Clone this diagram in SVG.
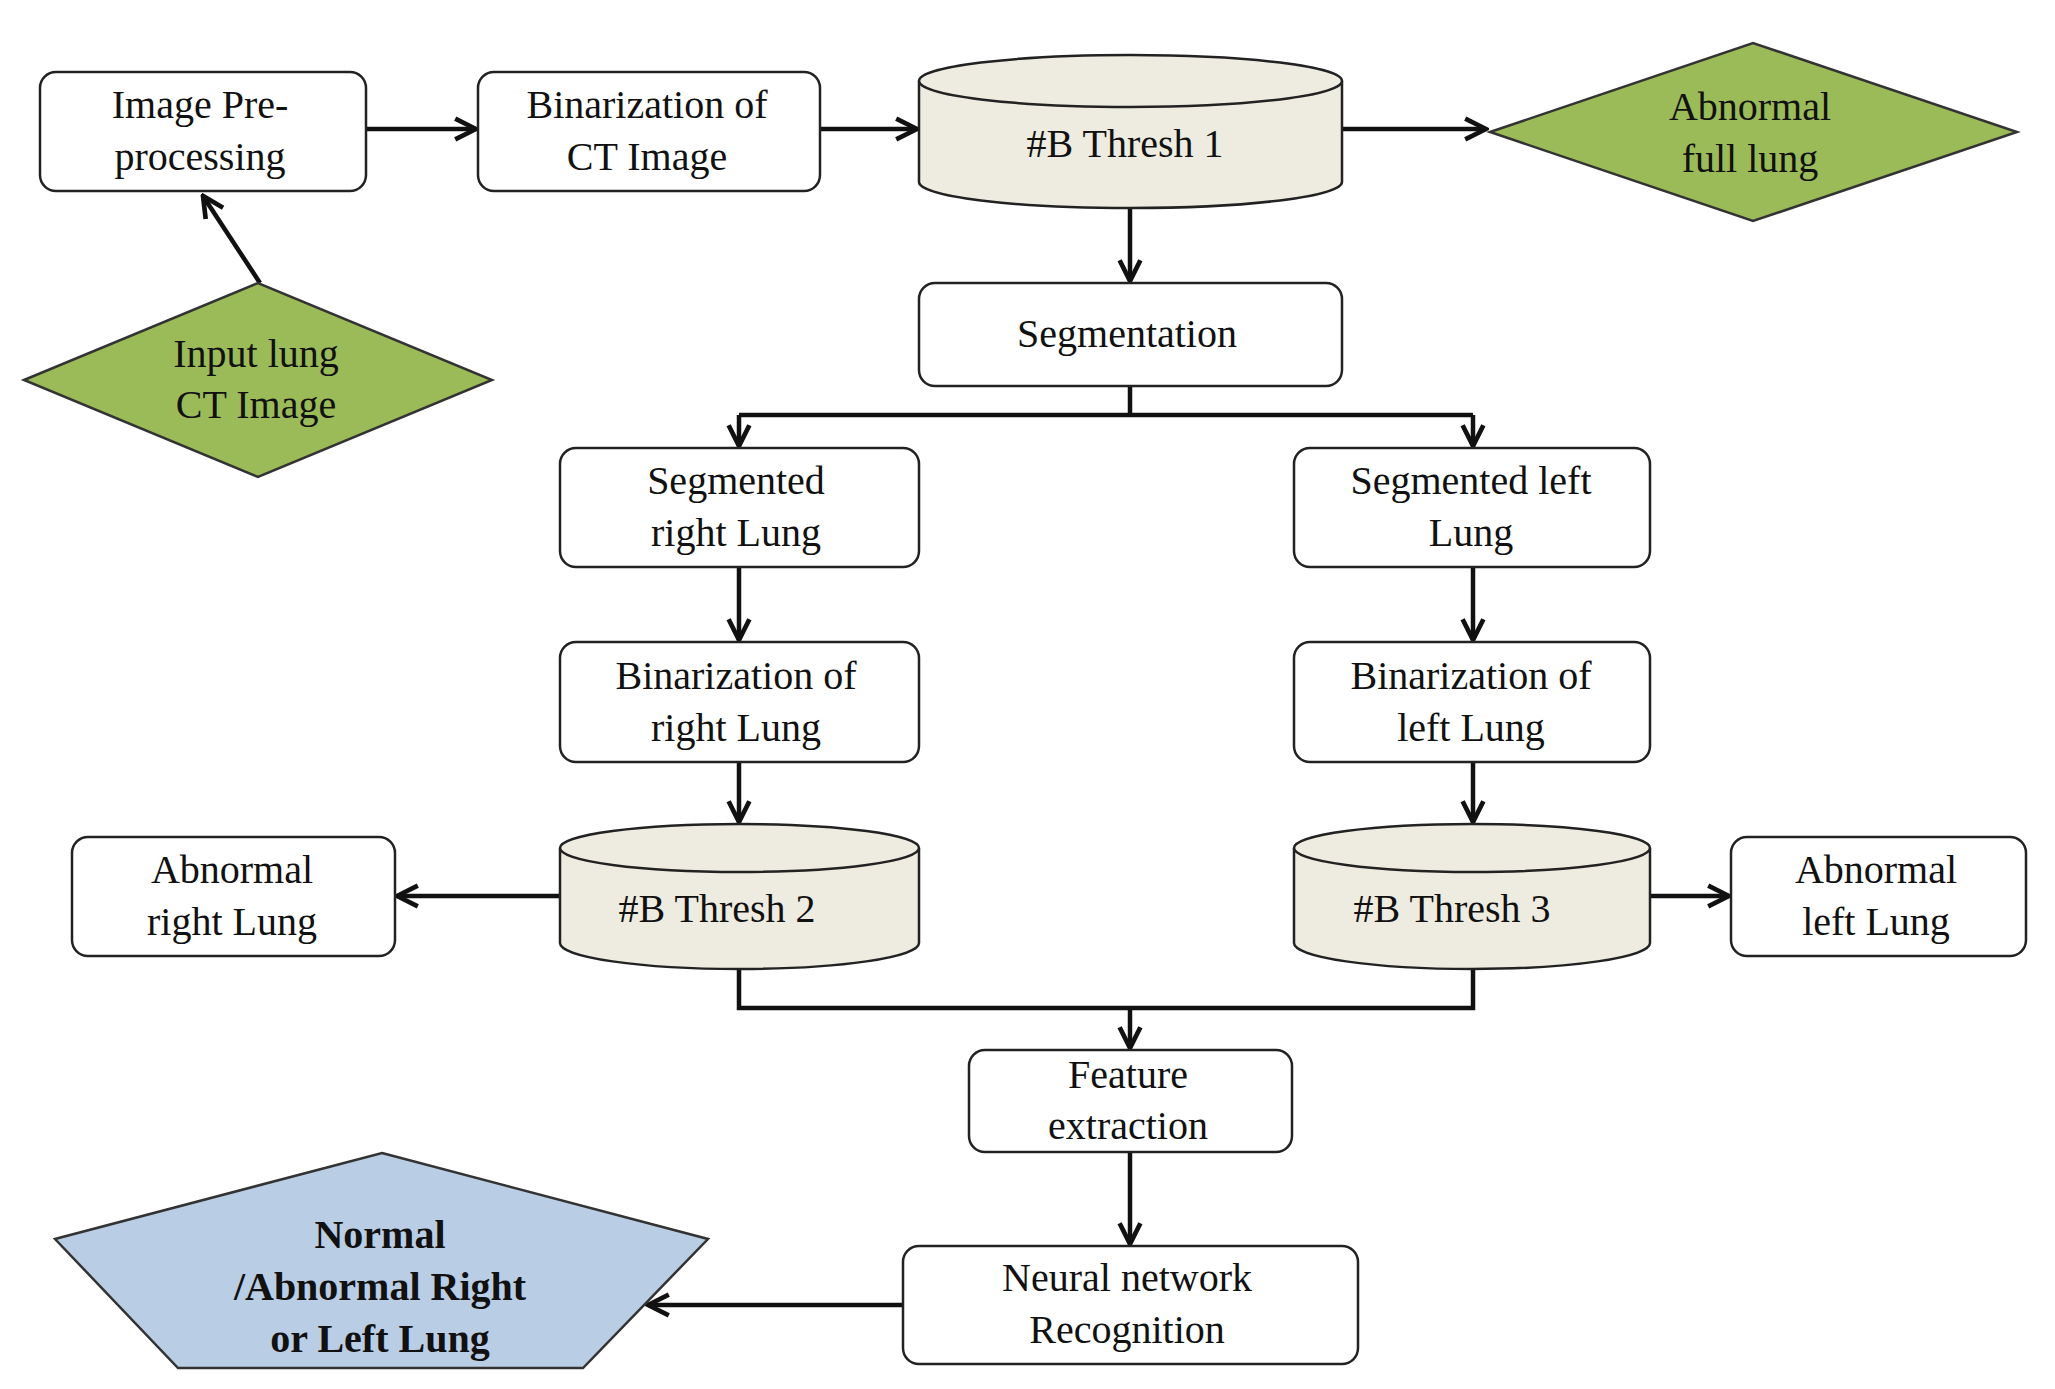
<svg xmlns="http://www.w3.org/2000/svg" width="2055" height="1389" viewBox="0 0 2055 1389">
<defs>
<style>
text{font-family:"Liberation Serif","Times New Roman",serif;font-size:40px;fill:#111;text-anchor:middle}
.b{fill:#fff;stroke:#222;stroke-width:2.5}
.d{fill:#9bbb59;stroke:#333;stroke-width:2.5}
.c{fill:#eeece1;stroke:#222;stroke-width:2.5}
.p{fill:#b9cde5;stroke:#333;stroke-width:2.5}
.l{fill:none;stroke:#111;stroke-width:4.5}
</style>
<marker id="a" viewBox="0 0 10 10" refX="9" refY="5" markerWidth="26" markerHeight="26" markerUnits="userSpaceOnUse" orient="auto"><path d="M1,1 L9,5 L1,9" fill="none" stroke="#111" stroke-width="1.8"/></marker>
</defs>
<rect width="2055" height="1389" fill="#fff"/>
<g id="connectors">
<path class="l" d="M366,129H476" marker-end="url(#a)"/>
<path class="l" d="M820,129H917" marker-end="url(#a)"/>
<path class="l" d="M1342,129H1486" marker-end="url(#a)"/>
<path class="l" d="M260,283L203,196" marker-end="url(#a)"/>
<path class="l" d="M1130,208V281" marker-end="url(#a)"/>
<path class="l" d="M1130,386V415"/>
<path class="l" d="M739,415H1473"/>
<path class="l" d="M739,415V446" marker-end="url(#a)"/>
<path class="l" d="M1473,415V446" marker-end="url(#a)"/>
<path class="l" d="M739,567V640" marker-end="url(#a)"/>
<path class="l" d="M1473,567V640" marker-end="url(#a)"/>
<path class="l" d="M739,762V822" marker-end="url(#a)"/>
<path class="l" d="M1473,762V822" marker-end="url(#a)"/>
<path class="l" d="M560,896H397" marker-end="url(#a)"/>
<path class="l" d="M1650,896H1729" marker-end="url(#a)"/>
<path class="l" d="M739,969V1008H1473V969"/>
<path class="l" d="M1130,1008V1048" marker-end="url(#a)"/>
<path class="l" d="M1130,1152V1244" marker-end="url(#a)"/>
<path class="l" d="M903,1305H648" marker-end="url(#a)"/>
</g>
<g id="preproc"><rect class="b" x="40" y="72" width="326" height="119" rx="16"/><text x="200" y="118">Image Pre-</text><text x="200" y="170">processing</text></g>
<g id="bin-ct"><rect class="b" x="478" y="72" width="342" height="119" rx="16"/><text x="647" y="118">Binarization of</text><text x="647" y="170">CT Image</text></g>
<g id="thresh1"><path class="c" d="M919,81V182A211,26 0 0 0 1342,182V81"/><ellipse class="c" cx="1130.5" cy="81" rx="211.5" ry="26"/><text x="1125" y="157">#B Thresh 1</text></g>
<g id="abn-full"><polygon class="d" points="1490,132 1753,43 2017,132 1753,221"/><text x="1750" y="120">Abnormal</text><text x="1750" y="172">full lung</text></g>
<g id="input"><polygon class="d" points="24,380 258,283 492,380 258,477"/><text x="256" y="367">Input lung</text><text x="256" y="418">CT Image</text></g>
<g id="seg"><rect class="b" x="919" y="283" width="423" height="103" rx="16"/><text x="1127" y="347">Segmentation</text></g>
<g id="seg-r"><rect class="b" x="560" y="448" width="359" height="119" rx="16"/><text x="736" y="494">Segmented</text><text x="736" y="546">right Lung</text></g>
<g id="seg-l"><rect class="b" x="1294" y="448" width="356" height="119" rx="16"/><text x="1471" y="494">Segmented left</text><text x="1471" y="546">Lung</text></g>
<g id="bin-r"><rect class="b" x="560" y="642" width="359" height="120" rx="16"/><text x="736" y="689">Binarization of</text><text x="736" y="741">right Lung</text></g>
<g id="bin-l"><rect class="b" x="1294" y="642" width="356" height="120" rx="16"/><text x="1471" y="689">Binarization of</text><text x="1471" y="741">left Lung</text></g>
<g id="thresh2"><path class="c" d="M560,848V943A179.5,26 0 0 0 919,943V848"/><ellipse class="c" cx="739.5" cy="848" rx="179.5" ry="24"/><text x="717" y="922">#B Thresh 2</text></g>
<g id="thresh3"><path class="c" d="M1294,848V943A178,26 0 0 0 1650,943V848"/><ellipse class="c" cx="1472" cy="848" rx="178" ry="24"/><text x="1452" y="922">#B Thresh 3</text></g>
<g id="abn-r"><rect class="b" x="72" y="837" width="323" height="119" rx="16"/><text x="232" y="883">Abnormal</text><text x="232" y="935">right Lung</text></g>
<g id="abn-l"><rect class="b" x="1731" y="837" width="295" height="119" rx="16"/><text x="1876" y="883">Abnormal</text><text x="1876" y="935">left Lung</text></g>
<g id="feat"><rect class="b" x="969" y="1050" width="323" height="102" rx="16"/><text x="1128" y="1088">Feature</text><text x="1128" y="1139">extraction</text></g>
<g id="nn"><rect class="b" x="903" y="1246" width="455" height="118" rx="16"/><text x="1127" y="1291">Neural network</text><text x="1127" y="1343">Recognition</text></g>
<g id="result"><polygon class="p" points="382,1153 708,1239 583,1368 178,1368 55,1239"/><text x="380" y="1248" font-weight="bold">Normal</text><text x="380" y="1300" font-weight="bold">/Abnormal Right</text><text x="380" y="1352" font-weight="bold">or Left Lung</text></g>
</svg>
